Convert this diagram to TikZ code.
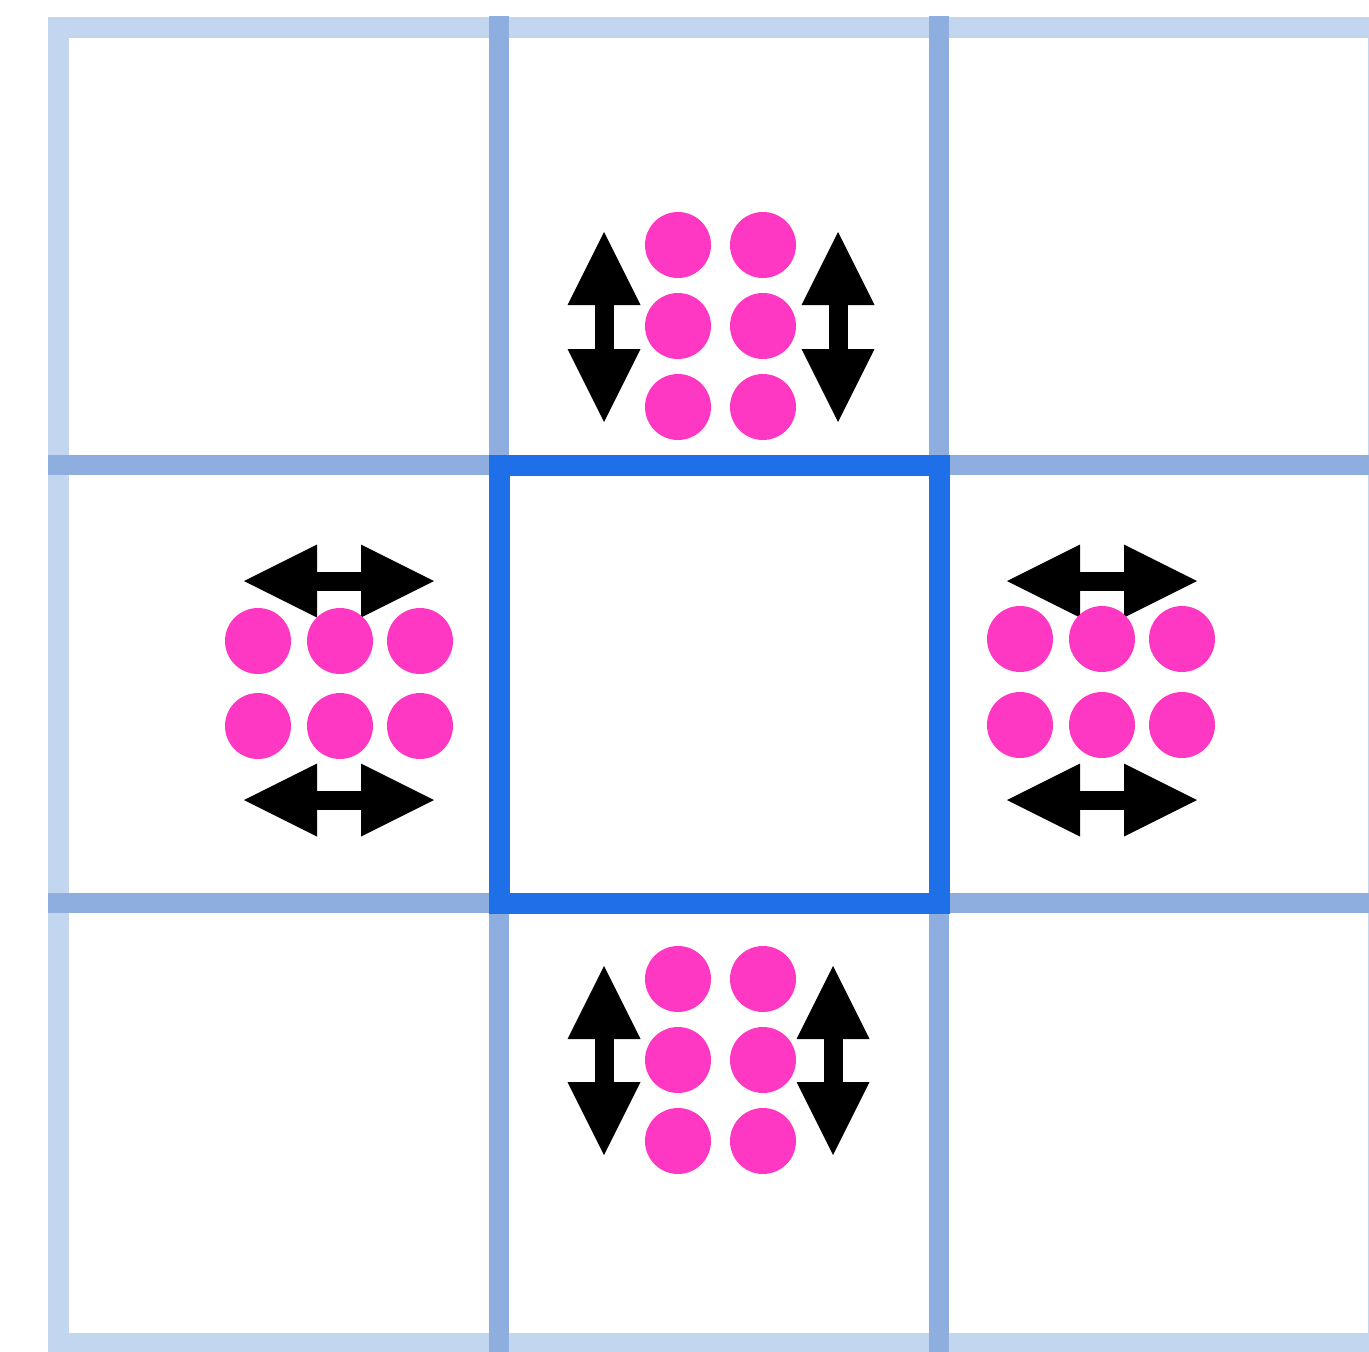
\documentclass[tikz,border=0pt]{standalone}
\usetikzlibrary{arrows.meta}
\definecolor{gridlight}{HTML}{C3D6EF}
\definecolor{gridmid}{HTML}{8DAEDF}
\definecolor{cellblue}{HTML}{1E6FE8}
\definecolor{pinkdot}{HTML}{FF38C3}
\tikzset{
  outerline/.style={draw=gridlight, line width=21pt},
  innerline/.style={draw=gridmid, line width=20pt},
  centercell/.style={draw=cellblue, line width=21pt},
  particle/.style={circle, fill=pinkdot, minimum size=66pt, inner sep=0pt},
  dblarrow/.style={<->, >={Triangle[length=73pt,width=73pt,line width=0pt]}, line width=19pt}
}
\begin{document}
\begin{tikzpicture}[x=1pt,y=-1pt]
\useasboundingbox (0,0) rectangle (1369,1352);
% grid
\draw[outerline] (58,27) rectangle (1378,1343);
\foreach \x in {499,939} \draw[innerline] (\x,16) -- (\x,1352);
\foreach \y in {465,903} \draw[innerline] (48,\y) -- (1369,\y);
% centre cell
\draw[centercell] (499,465) rectangle (939,903);

% top neighbour
\foreach \x [count=\i] in {604,838} {
  \coordinate (up-a\i) at (\x,232);
  \coordinate (up-b\i) at (\x,422);
  \draw[dblarrow] (up-a\i) -- (up-b\i);
}
\foreach \x [count=\i] in {678,763}
  \foreach \y [count=\j] in {245,326,407}
    \node[particle] (up-\i-\j) at (\x,\y) {};

% bottom neighbour
\foreach \x [count=\i] in {604,833} {
  \coordinate (dn-a\i) at (\x,966);
  \coordinate (dn-b\i) at (\x,1155);
  \draw[dblarrow] (dn-a\i) -- (dn-b\i);
}
\foreach \x [count=\i] in {678,763}
  \foreach \y [count=\j] in {979,1060,1141}
    \node[particle] (dn-\i-\j) at (\x,\y) {};

% left neighbour
\foreach \y [count=\i] in {581,800} {
  \coordinate (lt-a\i) at (244,\y);
  \coordinate (lt-b\i) at (434,\y);
  \draw[dblarrow] (lt-a\i) -- (lt-b\i);
}
\foreach \x [count=\i] in {258,340,420}
  \foreach \y [count=\j] in {641,726}
    \node[particle] (lt-\i-\j) at (\x,\y) {};

% right neighbour
\foreach \y [count=\i] in {581,800} {
  \coordinate (rt-a\i) at (1007,\y);
  \coordinate (rt-b\i) at (1197,\y);
  \draw[dblarrow] (rt-a\i) -- (rt-b\i);
}
\foreach \x [count=\i] in {1020,1102,1182}
  \foreach \y [count=\j] in {639,725}
    \node[particle] (rt-\i-\j) at (\x,\y) {};
\end{tikzpicture}
\end{document}
